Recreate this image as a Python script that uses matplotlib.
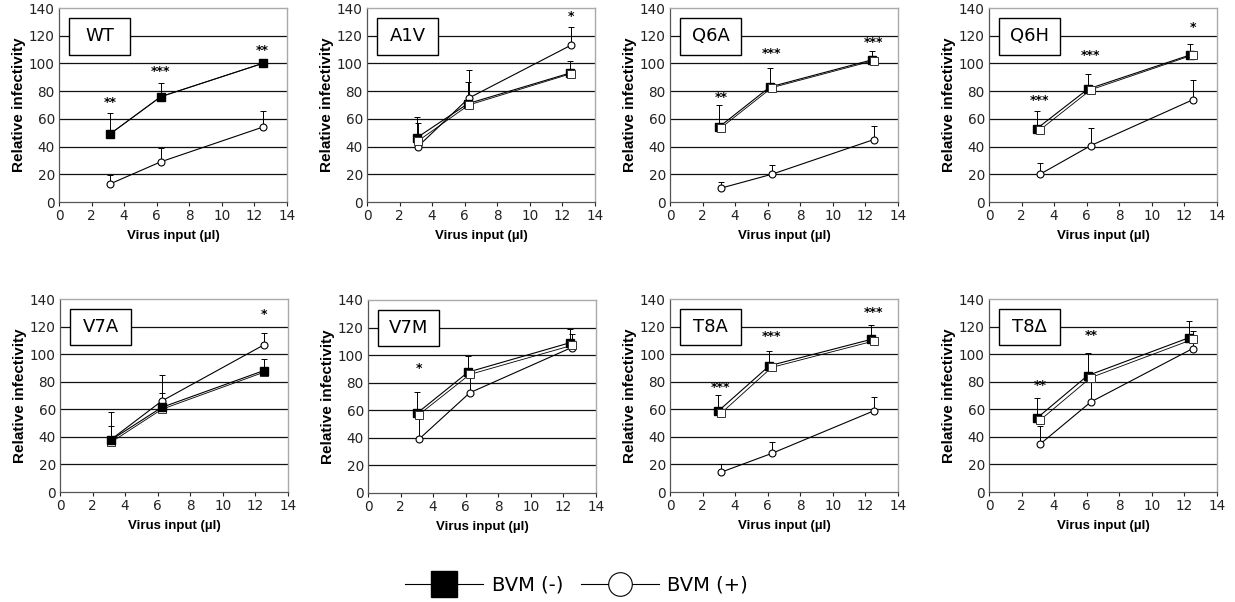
import matplotlib
matplotlib.use("Agg")
import matplotlib.pyplot as plt
from matplotlib.lines import Line2D
from matplotlib.patches import Rectangle

# ---------------- data ----------------
panels = ["WT", "A1V", "Q6A", "Q6H", "V7A", "V7M", "T8A", "T8\u0394"]
virus_input = [3.125, 6.25, 12.5]
x_ticks = [0, 2, 4, 6, 8, 10, 12, 14]
y_ticks = [0, 20, 40, 60, 80, 100, 120, 140]

# BVM (-) filled squares
bvm_minus = [
    [49, 76, 100], [46.5, 71, 93], [54, 83, 102.5], [53, 81.5, 106],
    [37.7, 61.4, 88], [58, 87.7, 109], [58.8, 91.6, 110.7], [53.4, 84.4, 112],
]
bvm_minus_err = [
    [15, 10, 1], [14.5, 15.5, 9], [16, 14, 6.5], [13, 11, 8],
    [20, 10.6, 8.7], [15, 12, 10], [11.5, 10.5, 10.3], [15, 16.6, 12],
]
# horizontal shift of the filled squares (as in the figure)
filled_shift = [0.0, -0.05, -0.12, -0.18, 0.0, -0.1, -0.15, -0.2]
# open squares (overlapping duplicate of BVM (-))
open_sq = [
    [49, 76, 100], [44, 70, 92.5], [53.5, 82.5, 102], [52, 81, 106],
    [36, 60, 86.8], [56.8, 86, 107], [57, 90.4, 109.5], [52, 83, 110.7],
]
# BVM (+) open circles
bvm_plus = [
    [13, 29, 54], [40, 75, 113], [10, 20, 45], [20, 40.7, 73.7],
    [38, 66, 106.6], [39, 72.7, 105.5], [14.3, 28, 58.8], [34.6, 65.3, 104],
]
bvm_plus_err = [
    [6.5, 10, 12], [17, 20, 13], [4.6, 6.5, 10], [8.4, 13, 14.3],
    [10, 19, 8.4], [18, 14, 9.5], [5.7, 8, 10.2], [13.4, 17, 13],
]
# significance stars and their heights
stars = [
    ["**", "***", "**"], ["", "", "*"], ["**", "***", "***"], ["***", "***", "*"],
    ["", "", "*"], ["*", "", ""], ["***", "***", "***"], ["**", "**", ""],
]
star_y = [
    [72, 94, 109], [0, 0, 134], [75.7, 107, 115], [73, 106, 126],
    [0, 0, 129], [90, 0, 0], [76, 112.7, 130], [77, 113.5, 0],
]

# ---------------- layout (pixels) ----------------
W, H = 1235, 602
lefts = [59, 367, 670, 989, 60, 368, 670, 989]
tops = [8, 8, 8, 8, 299, 300, 299, 299]
bottoms = [202, 202, 202, 202, 492, 493, 492, 492]
width_px = 228

fig = plt.figure(figsize=(W / 100, H / 100), dpi=100)
fig.patch.set_facecolor("white")

for i, name in enumerate(panels):
    l, t, b = lefts[i], tops[i], bottoms[i]
    ax = fig.add_axes([l / W, 1 - b / H, width_px / W, (b - t) / H])
    ax.set_xlim(0, 14)
    ax.set_ylim(0, 140)
    ax.set_xticks(x_ticks)
    ax.set_yticks(y_ticks)
    ax.tick_params(axis="x", direction="out", length=3, width=0.8,
                   labelsize=9.8, pad=2, colors="#222222")
    ax.tick_params(axis="y", length=0, labelsize=9.8, pad=3, colors="#222222")
    for s in ["top", "right"]:
        ax.spines[s].set_color("#aaaaaa")
        ax.spines[s].set_linewidth(1.0)
    for s in ["left", "bottom"]:
        ax.spines[s].set_color("#555555")
        ax.spines[s].set_linewidth(0.9)
    for yv in y_ticks[1:-1]:
        ax.axhline(yv, color="#111111", lw=0.9, zorder=1)

    xf = [v + filled_shift[i] for v in virus_input]
    # BVM (+)
    ax.errorbar(virus_input, bvm_plus[i], yerr=[[0, 0, 0], bvm_plus_err[i]],
                fmt="none", ecolor="black", elinewidth=0.7, capsize=2,
                capthick=0.7, zorder=3)
    ax.plot(virus_input, bvm_plus[i], color="black", lw=0.8, marker="o",
            markersize=5, mfc="white", mec="black", mew=0.8, zorder=4)
    # BVM (-)
    ax.errorbar(xf, bvm_minus[i], yerr=[[0, 0, 0], bvm_minus_err[i]],
                fmt="none", ecolor="black", elinewidth=0.7, capsize=2,
                capthick=0.7, zorder=3)
    ax.plot(xf, bvm_minus[i], color="black", lw=0.8, marker="s",
            markersize=6, mfc="black", mec="black", zorder=5)
    open_z = 6 if filled_shift[i] != 0.0 else 4.5
    ax.plot(virus_input, open_sq[i], color="black", lw=0.6, marker="s",
            markersize=5.2, mfc="white", mec="#333333", mew=0.7, zorder=open_z)

    for k in range(3):
        if stars[i][k]:
            ax.text(virus_input[k], star_y[i][k], stars[i][k], ha="center",
                    va="center", fontsize=9, fontweight="bold", zorder=7)

    ax.add_patch(Rectangle((0.045, 0.76), 0.268, 0.19, transform=ax.transAxes,
                           facecolor="white", edgecolor="black", lw=1.0,
                           zorder=8))
    ax.text(0.045 + 0.134, 0.855, name, transform=ax.transAxes, ha="center",
            va="center", fontsize=13, family="DejaVu Sans", zorder=9)

    ax.set_ylabel("Relative infectivity", fontsize=11, fontweight="bold",
                  family="Liberation Sans", labelpad=2)
    ax.set_xlabel("Virus input (\u00b5l)", fontsize=9.5, fontweight="bold",
                  family="Liberation Sans", labelpad=5)

handles = [
    Line2D([], [], color="black", lw=0.8, marker="s", markersize=19,
           mfc="black", mec="black"),
    Line2D([], [], color="black", lw=0.8, marker="o", markersize=17,
           mfc="white", mec="black", mew=0.8),
]
fig.legend(handles, ["BVM (-)", "BVM (+)"], loc="center",
           bbox_to_anchor=(0.467, 0.028), ncol=2, frameon=False,
           fontsize=14, handlelength=4.0, handletextpad=0.45,
           columnspacing=0.9, borderpad=0)

fig.savefig("out.png", dpi=100, facecolor="white")
